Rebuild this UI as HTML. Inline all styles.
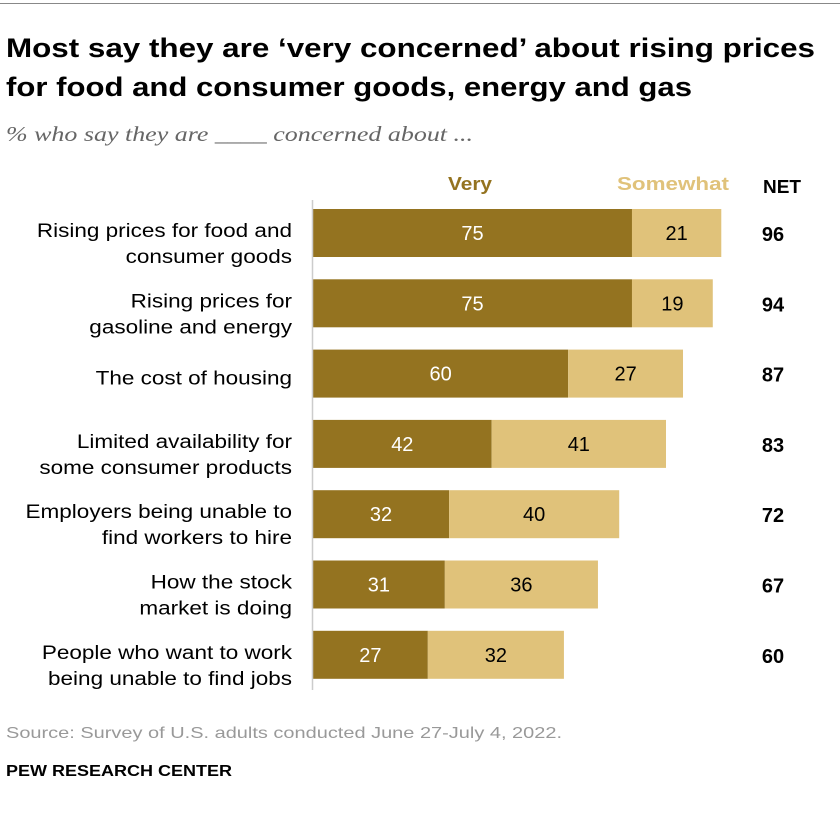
<!DOCTYPE html>
<html><head><meta charset="utf-8"><style>
body{margin:0;background:#fff;width:840px;height:820px;overflow:hidden;font-family:"Liberation Sans",sans-serif}
</style></head><body>
<svg width="840" height="820" xmlns="http://www.w3.org/2000/svg">
<line x1="0" y1="3.5" x2="840" y2="3.5" stroke="#888" stroke-width="1"/>
<text x="6" y="57" font-size="27" font-weight="bold" fill="#000" textLength="809" lengthAdjust="spacingAndGlyphs">Most say they are ‘very concerned’ about rising prices</text>
<text x="6" y="96" font-size="27" font-weight="bold" fill="#000" textLength="686" lengthAdjust="spacingAndGlyphs">for food and consumer goods, energy and gas</text>
<text x="6" y="141" font-size="21" font-style="italic" font-family="Liberation Serif, serif" fill="#666" textLength="467" lengthAdjust="spacingAndGlyphs">% who say they are ____ concerned about ...</text>
<text x="448" y="190" font-size="18" font-weight="bold" fill="#947320" textLength="44" lengthAdjust="spacingAndGlyphs">Very</text>
<text x="617" y="190" font-size="18" font-weight="bold" fill="#e0c27a" textLength="112" lengthAdjust="spacingAndGlyphs">Somewhat</text>
<text x="763" y="193" font-size="18" font-weight="bold" fill="#000" textLength="38" lengthAdjust="spacingAndGlyphs">NET</text>
<g id="bars"></g>
<line x1="312.5" y1="200" x2="312.5" y2="690" stroke="#ccc" stroke-width="1.5"/>
<text x="6" y="738" font-size="16" fill="#999" textLength="556" lengthAdjust="spacingAndGlyphs">Source: Survey of U.S. adults conducted June 27-July 4, 2022.</text>
<text x="6" y="776" font-size="16" font-weight="bold" fill="#000" textLength="226" lengthAdjust="spacingAndGlyphs">PEW RESEARCH CENTER</text>
</svg>
<script>
const labels=[["Rising prices for food and","consumer goods"],["Rising prices for","gasoline and energy"],["The cost of housing"],["Limited availability for","some consumer products"],["Employers being unable to","find workers to hire"],["How the stock","market is doing"],["People who want to work","being unable to find jobs"]];
const very=[75,75,60,42,32,31,27];
const somewhat=[21,19,27,41,40,36,32];
const net=[96,94,87,83,72,67,60];
const x0=313,k=4.253,top0=209,step=70.3,bh=48;
const g=document.getElementById('bars');const NS='http://www.w3.org/2000/svg';
function mk(t,a,txt,parent){const e=document.createElementNS(NS,t);for(const n in a)e.setAttribute(n,a[n]);if(txt!=null)e.textContent=txt;(parent||g).appendChild(e);return e;}
const lg=mk('g',{transform:'translate(292,0) scale(1.155,1) translate(-292,0)'});


labels.forEach((L,i)=>{
 const y=top0+i*step,cy=y+bh/2;
 const w1=very[i]*k,w2=somewhat[i]*k;
 let e=mk('rect',{x:x0,y:y,width:w1,height:bh,fill:'#947320'});
 
 
 e=mk('rect',{x:x0+w1,y:y,width:w2,height:bh,fill:'#e0c27a'});
 
 
 e=mk('text',{x:x0+w1/2,y:cy+7,'font-size':20,fill:'#fff','text-anchor':'middle'},very[i]);
 
 
 e=mk('text',{x:x0+w1+w2/2,y:cy+7,'font-size':20,fill:'#000','text-anchor':'middle'},somewhat[i]);
 
 
 e=mk('text',{x:773,y:cy+8,'font-size':20,'font-weight':'bold',fill:'#000','text-anchor':'middle'},net[i]);
 
 
 L.forEach((s,j)=>{
  const ly=L.length===1?cy+11:cy+4+j*26;
  e=mk('text',{x:292,y:ly,'font-size':19.5,fill:'#000','text-anchor':'end'},s,lg);
  
  
 });
});
</script>
</body></html>
